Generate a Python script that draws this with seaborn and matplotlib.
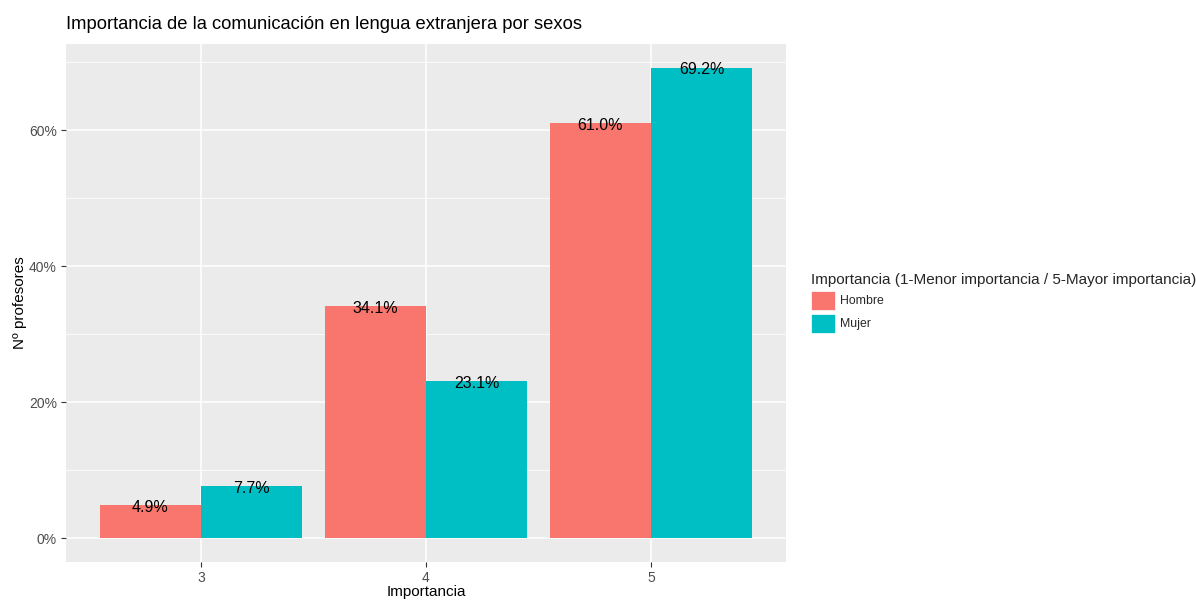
import pandas as pd
import numpy as np
import matplotlib
matplotlib.use("Agg")
import matplotlib.pyplot as plt
from matplotlib.ticker import PercentFormatter, MultipleLocator
from matplotlib.patches import Patch
import seaborn as sns

# ==================== Data ====================
importancia = ["3", "4", "5"]
hombre = [4.9, 34.1, 61.0]
mujer = [7.7, 23.1, 69.2]
sexos = ["Hombre", "Mujer"]
colores = ["#F8766D", "#00BFC4"]

df = pd.DataFrame({
    "Importancia": importancia * 2,
    "Sexo": [sexos[0]] * 3 + [sexos[1]] * 3,
    "Porcentaje": hombre + mujer,
})

# ==================== Plot ====================
sns.set_theme(style="darkgrid")
plt.rcParams["font.family"] = ["Liberation Sans", "DejaVu Sans"]

fig = plt.figure(figsize=(11.96, 6.0), dpi=100)
ax = fig.add_axes([66 / 1196, 1 - 562 / 600, 720 / 1196, 518 / 600])
ax.set_facecolor("#EBEBEB")

sns.barplot(data=df, x="Importancia", y="Porcentaje", hue="Sexo",
            order=importancia, hue_order=sexos, palette=colores,
            width=0.9, gap=0, saturation=1, linewidth=0, legend=False, ax=ax)

# labels centred on the top of each bar
for cont in ax.containers:
    for p in cont:
        h = p.get_height()
        ax.annotate(f"{h:.1f}%", (p.get_x() + p.get_width() / 2, h),
                    xytext=(0, -1.5), textcoords="offset points",
                    ha="center", va="center", fontsize=11.5, color="black")

ax.set_xlim(-0.6, 2.6)
ax.set_ylim(-3.46, 72.66)
ax.yaxis.set_major_locator(MultipleLocator(20))
ax.yaxis.set_minor_locator(MultipleLocator(10))
ax.yaxis.set_major_formatter(PercentFormatter(decimals=0))

ax.grid(which="major", color="white", linewidth=1.1)
ax.grid(which="minor", axis="y", color="white", linewidth=0.55)
ax.set_axisbelow(True)
for s in ax.spines.values():
    s.set_visible(False)

ax.tick_params(axis="both", which="major", length=3.5, width=0.8, color="#333333",
               labelsize=10, labelcolor="#4D4D4D", pad=3, left=True, bottom=True)
ax.tick_params(axis="y", which="minor", length=0)

ax.set_xlabel("Importancia", fontsize=11, color="black")
ax.set_ylabel("Nº profesores", fontsize=11, color="black")
ax.xaxis.set_label_coords(0.5, -0.045)
ax.yaxis.set_label_coords(-0.054, 0.5)
ax.set_title("Importancia de la comunicación en lengua extranjera por sexos",
             loc="left", fontsize=13.2, color="black", pad=11)

handles = [Patch(facecolor=c, edgecolor="white", linewidth=0.5) for c in colores]
leg = fig.legend(handles, sexos,
                 title="Importancia (1-Menor importancia / 5-Mayor importancia)",
                 loc="center left", bbox_to_anchor=(806 / 1196, 1 - 303 / 600),
                 frameon=False, fontsize=8.8, title_fontsize=11,
                 handlelength=2.0, handleheight=2.0, labelspacing=0.3,
                 handletextpad=0.4, borderaxespad=0)
leg._legend_box.align = "left"

fig.savefig("out.png", dpi=100)
